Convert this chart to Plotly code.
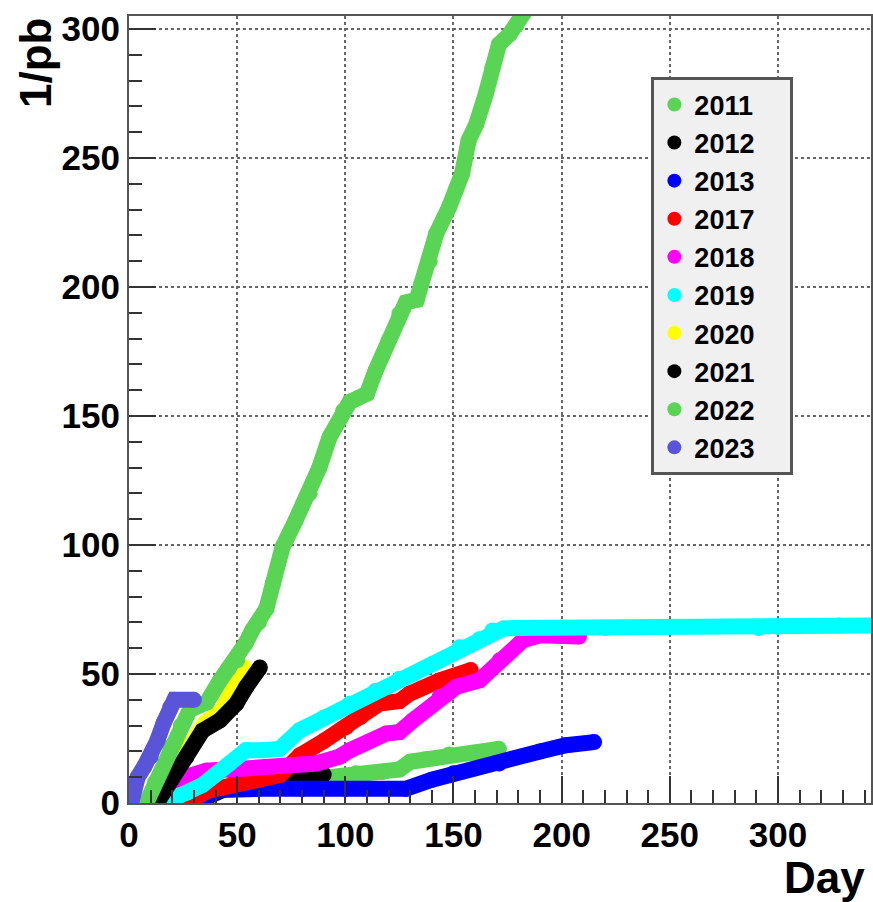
import plotly.graph_objects as go

years = ["2011", "2012", "2013", "2017", "2018", "2019", "2020", "2021", "2022", "2023"]
colors = ["#59d454", "#000000", "#0000ff", "#ff0000", "#ff00ff",
          "#00ffff", "#ffff00", "#000000", "#59d454", "#5954d8"]

day_2011 = [10, 20, 30, 45, 60, 75, 91, 105, 117, 125, 130, 137, 148, 160, 171]
lumi_2011 = [0, 2, 4, 5.5, 7, 8.5, 10.5, 11.5, 12, 13, 16, 17, 18.8, 19.5, 21]

day_2012 = [30, 35, 40, 50, 60, 70, 80, 90]
lumi_2012 = [0, 2, 5, 7.5, 8.5, 9.8, 10.8, 11]

day_2013 = [28, 35, 42, 60, 80, 100, 128, 140, 150, 171, 190, 202, 215]
lumi_2013 = [0, 2, 5, 5.5, 5.5, 5.5, 5.5, 9, 11.5, 15.3, 20, 22.4, 23.6]

day_2017 = [16, 28, 37, 48, 60, 70, 79, 90, 100.4, 107, 115.8, 125, 129.7, 143.5, 158]
lumi_2017 = [0.4, 1, 4.9, 7.5, 9, 11, 18.5, 24, 29.4, 33.3, 38.5, 39.5, 42.4, 47.5, 51.5]

day_2018 = [20, 27, 35.7, 50, 63.5, 79, 86.6, 97.3, 102, 118.9, 125, 131.2, 143.5, 151.2, 162,
            171.3, 182, 189.7, 208]
lumi_2018 = [8.5, 10.5, 12.5, 13.2, 14, 15, 15.3, 18, 20.4, 26.9, 27.5, 32, 41, 45, 47.5, 55.3, 63,
             65, 64.5]

day_2019 = [18.8, 27, 34, 40, 46.5, 54, 62, 69.6, 78.9, 90, 102, 114, 125, 140.5, 152.8, 162,
            168, 173, 178, 220, 291, 300, 328, 350]
lumi_2019 = [1, 4, 7, 11, 15.3, 20.4, 20.4, 21, 28.2, 33, 38.5, 43.5, 48.2, 54, 60.4, 63.5,
             66.9, 67.6, 67.8, 67.8, 67.8, 68.3, 68.8, 68.8]

day_2020 = [11, 20, 28, 35, 43, 50, 53]
lumi_2020 = [0, 10, 22, 31, 36, 46, 52.5]

day_2021 = [14, 20, 26.5, 34, 42, 49.6, 54.2, 60.5]
lumi_2021 = [1.5, 10, 17.8, 28, 32, 38.5, 45, 52.5]

day_2022 = [8, 12, 19, 24, 28, 33, 36, 42, 46, 50, 54, 57, 60, 63.5, 66.5, 71, 77, 83.5, 88, 92.7,
            99, 102, 106, 110, 114, 120, 125, 128, 133, 135, 139, 142, 148, 151, 154, 157, 160.5,
            165, 168, 171, 176, 179, 184]
lumi_2022 = [0, 8, 21.6, 30, 36, 38, 39, 47.4, 52, 55.3, 62, 67, 70, 75.3, 85, 99.2, 109.5, 120, 130,
             141.8, 152, 155.4, 157, 158.6, 167.6, 179.3, 189.6, 194, 195, 201, 210, 220.6, 231,
             237.4, 244, 256.8, 263, 275, 285, 294, 298, 301.3, 308]

day_2023 = [1, 2, 4, 7, 10, 13, 16, 19, 21, 30]
lumi_2023 = [0, 5, 10, 14, 18, 24, 31, 37, 40, 40]

days = [day_2011, day_2012, day_2013, day_2017, day_2018, day_2019, day_2020, day_2021,
        day_2022, day_2023]
lumis = [lumi_2011, lumi_2012, lumi_2013, lumi_2017, lumi_2018, lumi_2019, lumi_2020, lumi_2021,
         lumi_2022, lumi_2023]

x_ticks = [0, 50, 100, 150, 200, 250, 300]
y_ticks = [0, 50, 100, 150, 200, 250, 300]

FONT = "Liberation Sans, Arial, sans-serif"

fig = go.Figure()
for yr, col, d, l in zip(years, colors, days, lumis):
    fig.add_trace(go.Scatter(
        x=d, y=l, mode="lines+markers", name=yr, showlegend=False,
        line=dict(color=col, width=16),
        marker=dict(color=col, size=16),
        hoverinfo="skip", cliponaxis=True))

for yr, col in zip(years, colors):
    fig.add_trace(go.Scatter(
        x=[None], y=[None], mode="markers", name=yr + "\u00a0\u00a0\u00a0\u00a0",
        marker=dict(color=col, size=14), showlegend=True))

axis_common = dict(
    showline=True, linecolor="#555555", linewidth=2, mirror=True,
    showgrid=True, gridcolor="#666666", griddash="dot", gridwidth=1.5,
    ticks="inside", ticklen=27, tickwidth=1.5, tickcolor="#333333",
    zeroline=False, automargin=False,
    tickfont=dict(family=FONT, size=35, color="black", weight="bold"),
    minor=dict(ticks="inside", ticklen=13, tickwidth=1.5, tickcolor="#333333",
               dtick=10, showgrid=False),
)

fig.update_xaxes(range=[0, 343], tickvals=x_ticks, ticktext=[str(v) for v in x_ticks],
                 **axis_common)
fig.update_yaxes(range=[0, 305], tickvals=y_ticks, ticktext=[str(v) for v in y_ticks],
                 **axis_common)

fig.update_layout(
    width=873, height=902,
    margin=dict(l=129, r=2, t=16, b=99, autoexpand=False),
    paper_bgcolor="white", plot_bgcolor="white",
    font=dict(family=FONT, color="black"),
    legend=dict(
        x=0.704, y=0.922, xanchor="left", yanchor="top",
        bgcolor="#f0f0f0", bordercolor="#555555", borderwidth=3,
        font=dict(family=FONT, size=27, color="black", weight="bold"),
        itemsizing="trace",
    ),
    annotations=[
        dict(text="Day", xref="paper", yref="paper", x=1.0, y=-0.095,
             xanchor="right", yanchor="middle", showarrow=False, xshift=-4,
             font=dict(family=FONT, size=44, color="black", weight="bold")),
        dict(text="1/pb", xref="paper", yref="paper", x=-0.1213, y=1.0,
             xanchor="center", yanchor="top", showarrow=False, textangle=-90, xshift=-4,
             font=dict(family=FONT, size=44, color="black", weight="bold")),
    ],
)

fig.write_html("out.html",
               config={"displayModeBar": False},
               post_script="document.body.style.margin='0';document.body.style.overflow='hidden';")
